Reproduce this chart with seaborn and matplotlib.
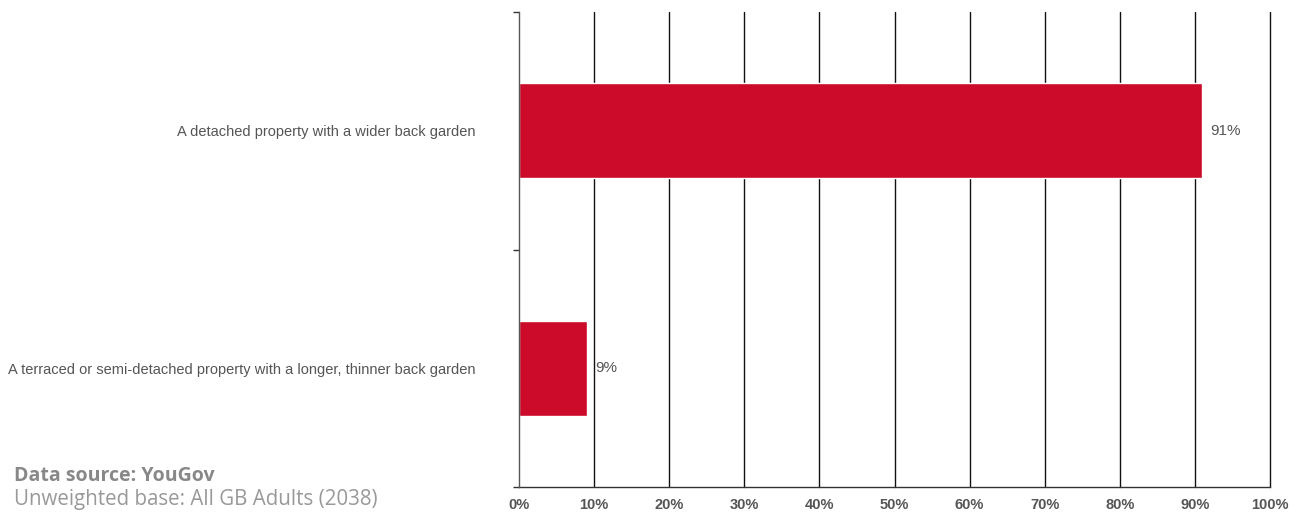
import matplotlib
matplotlib.use("Agg")
import matplotlib.pyplot as plt
import seaborn as sns
import pandas as pd
from matplotlib.ticker import FixedLocator, PercentFormatter

categories = [
    "A detached property with a wider back garden",
    "A terraced or semi-detached property with a longer, thinner back garden",
]
values = [91, 9]
x_ticks = list(range(0, 101, 10))

df = pd.DataFrame({"option": categories, "share": values})

sns.set_style("white")
plt.rcParams["font.family"] = ["Liberation Sans", "DejaVu Sans"]

fig = plt.figure(figsize=(13.04, 5.13), dpi=100)
ax = fig.add_axes([519 / 1304, 1 - 487 / 513, (1270 - 519) / 1304, (487 - 12) / 513])

sns.barplot(data=df, x="share", y="option", orient="h", color="#CC0A29",
            saturation=1, width=0.4, ax=ax, zorder=3)

ax.set_xlim(0, 100)
ax.set_ylim(1.5, -0.5)
ax.xaxis.set_major_locator(FixedLocator(x_ticks))
ax.xaxis.set_major_formatter(PercentFormatter(decimals=0))
ax.grid(False)
# vertical gridlines, unclipped so the 100% line is drawn at full width
for t in x_ticks[1:]:
    ax.axvline(t, color="#111111", linewidth=1.0, zorder=1, clip_on=False)

for side in ("top", "right"):
    ax.spines[side].set_visible(False)
ax.spines["left"].set_color("#555555")
ax.spines["bottom"].set_color("#333333")
ax.spines["left"].set_linewidth(1.0)
ax.spines["bottom"].set_linewidth(1.0)
ax.spines["left"].set_zorder(4)

ax.tick_params(axis="x", which="major", direction="out", length=4, width=1,
               color="#333333", labelcolor="#555555", labelsize=10.5, pad=4)
for lbl in ax.get_xticklabels():
    lbl.set_fontweight("bold")

ax.tick_params(axis="y", which="major", length=0, labelcolor="#555555",
               labelsize=10.5, pad=31)
ax.set_yticks([-0.5, 0.5, 1.5], minor=True)
ax.tick_params(axis="y", which="minor", direction="out", length=4, width=1,
               color="#333333", left=True)
ax.set_xlabel("")
ax.set_ylabel("")

for i, v in enumerate(values):
    ax.annotate(f"{v}%", xy=(v, i), xytext=(6, 0), textcoords="offset points",
                va="center", ha="left", fontsize=11, color="#555555")

fig.text(14 / 1304, 1 - 476 / 513, "Data source: YouGov", fontsize=14,
         fontweight="bold", color="#888888", family=["Open Sans", "DejaVu Sans"],
         va="center", ha="left")
fig.text(14 / 1304, 1 - 499 / 513, "Unweighted base: All GB Adults (2038)",
         fontsize=14.8, color="#999999", family=["Open Sans", "DejaVu Sans"],
         va="center", ha="left")

fig.savefig("out.png", dpi=100, facecolor="white")
